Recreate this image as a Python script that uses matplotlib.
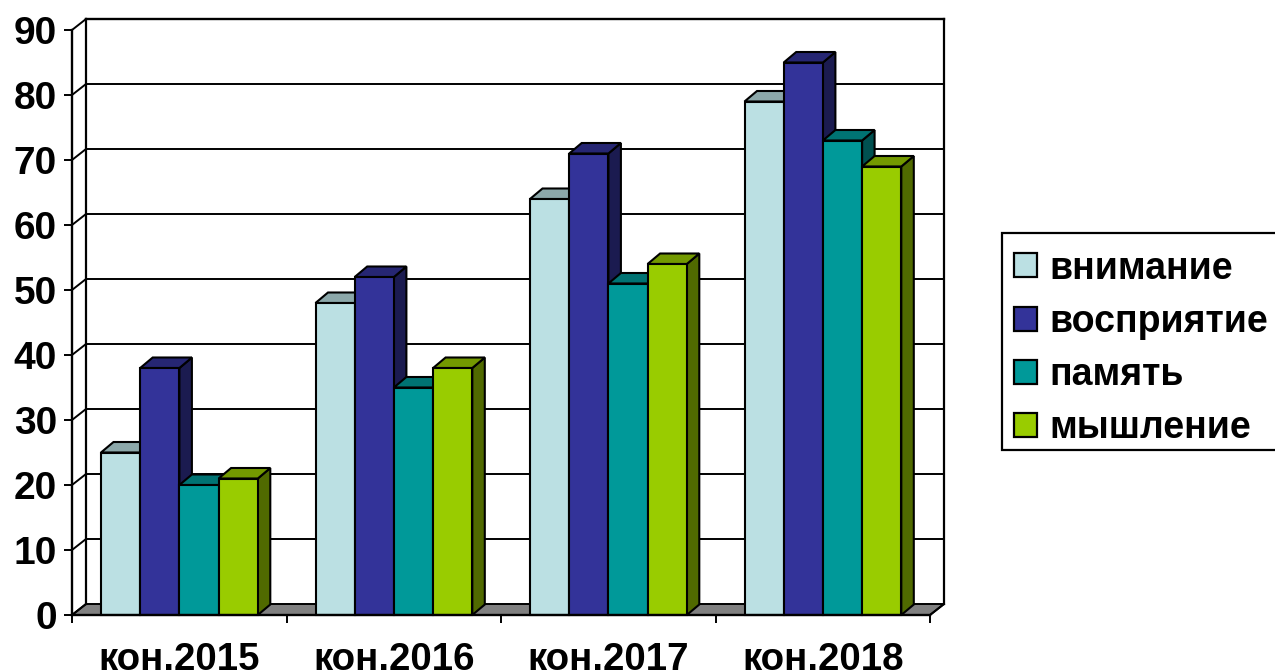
import matplotlib
matplotlib.use("Agg")
import matplotlib.pyplot as plt
from matplotlib.patches import Patch, Rectangle
from matplotlib.colors import to_rgb

plt.rcParams['font.family'] = ['Liberation Sans', 'DejaVu Sans']
plt.rcParams['font.weight'] = 'bold'

# данные диаграммы
categories = ['кон.2015', 'кон.2016', 'кон.2017', 'кон.2018']
vnimanie = [25, 48, 64, 79]
vospriyatie = [38, 52, 71, 85]
pamyat = [20, 35, 51, 73]
myshlenie = [21, 38, 54, 69]
y_ticks = [0, 10, 20, 30, 40, 50, 60, 70, 80, 90]

series_names = ['внимание', 'восприятие', 'память', 'мышление']
series_values = [vnimanie, vospriyatie, pamyat, myshlenie]
colors = ['#BBE0E3', '#333399', '#009999', '#99CC00']

W, H = 1275, 671
fig = plt.figure(figsize=(W / 100, H / 100), dpi=100)
ax = fig.add_axes([72 / W, 1 - 615 / H, (930 - 72) / W, 585 / H])
ax.set_xlim(0, 4)
ax.set_ylim(0, 90)

# псевдо-3D: смещения в единицах данных
px_x = 4 / 858
px_y = 90 / 585
wall_dx = 14 * px_x
wall_dy = 11 * px_y
bar_dx = 12.5 * px_x
bar_dy = 10.5 * px_y
bar_w = 39.2 * px_x
group_off = 29 * px_x


def shade(color, k):
    return tuple(c * k for c in to_rgb(color))


# задняя стенка и пол
ax.fill([0, 4, 4 + wall_dx, wall_dx], [0, 0, wall_dy, wall_dy],
        facecolor='#808080', edgecolor='black', lw=1.4, clip_on=False, zorder=1)
for t in y_ticks:
    ax.plot([0, wall_dx], [t, t + wall_dy], color='black', lw=1.4, clip_on=False, zorder=1.5)
    if t > 0:
        ax.plot([wall_dx, 4 + wall_dx], [t + wall_dy, t + wall_dy], color='black',
                lw=1.4 if t < 90 else 1.7, clip_on=False, zorder=1.5)
ax.plot([wall_dx, wall_dx], [wall_dy, 90 + wall_dy], color='black', lw=1.6, clip_on=False, zorder=1.5)
ax.plot([4 + wall_dx, 4 + wall_dx], [wall_dy, 90 + wall_dy], color='black', lw=1.6, clip_on=False, zorder=1.5)
ax.plot([4, 4 + wall_dx], [0, wall_dy], color='black', lw=1.4, clip_on=False, zorder=1.5)

# столбики
z = 3
for g in range(len(categories)):
    for s, vals in enumerate(series_values):
        x0 = g + group_off + s * bar_w
        x1 = x0 + bar_w
        v = vals[g]
        col = colors[s]
        ax.fill([x1, x1 + bar_dx, x1 + bar_dx, x1], [0, bar_dy, v + bar_dy, v],
                facecolor=shade(col, 0.52), edgecolor='black', lw=1.5,
                clip_on=False, zorder=z)
        ax.fill([x0, x1, x1 + bar_dx, x0 + bar_dx], [v, v, v + bar_dy, v + bar_dy],
                facecolor=shade(col, 0.75), edgecolor='black', lw=1.5,
                clip_on=False, zorder=z)
        ax.bar(x0, v, width=bar_w, align='edge', color=col, edgecolor='black',
               lw=1.5, clip_on=False, zorder=z + 0.5)
        z += 1

for name in ['top', 'right']:
    ax.spines[name].set_visible(False)
for name in ['left', 'bottom']:
    ax.spines[name].set_linewidth(1.7)
    ax.spines[name].set_zorder(100)

ax.set_yticks(y_ticks)
ax.tick_params(axis='y', length=5.8, width=1.4, pad=5, labelsize=28)
ax.set_xticks(range(len(categories) + 1))
ax.set_xticklabels([])
ax.set_xticks([i + 0.5 for i in range(len(categories))], categories, minor=True)
ax.tick_params(axis='x', which='major', length=5.5, width=1.4)
ax.tick_params(axis='x', which='minor', length=0, pad=19.5, labelsize=27.7)

# рамка легенды уходит за правый край, как в оригинале
fig.add_artist(Rectangle((1002 / W, 1 - 450 / H), 300 / W, 217 / H, transform=fig.transFigure,
                         facecolor='white', edgecolor='black', lw=1.6, zorder=1))
handles = [Patch(facecolor=c, edgecolor='black', lw=1.6) for c in colors]
fig.legend(handles, series_names, loc='upper left',
           bbox_to_anchor=(1002 / W, 1 - 239 / H), bbox_transform=fig.transFigure,
           fontsize=27, frameon=False, borderaxespad=0, borderpad=0.31,
           handlelength=0.61, handleheight=0.61, handletextpad=0.34,
           labelspacing=0.46)

fig.savefig('out.png', dpi=100)
